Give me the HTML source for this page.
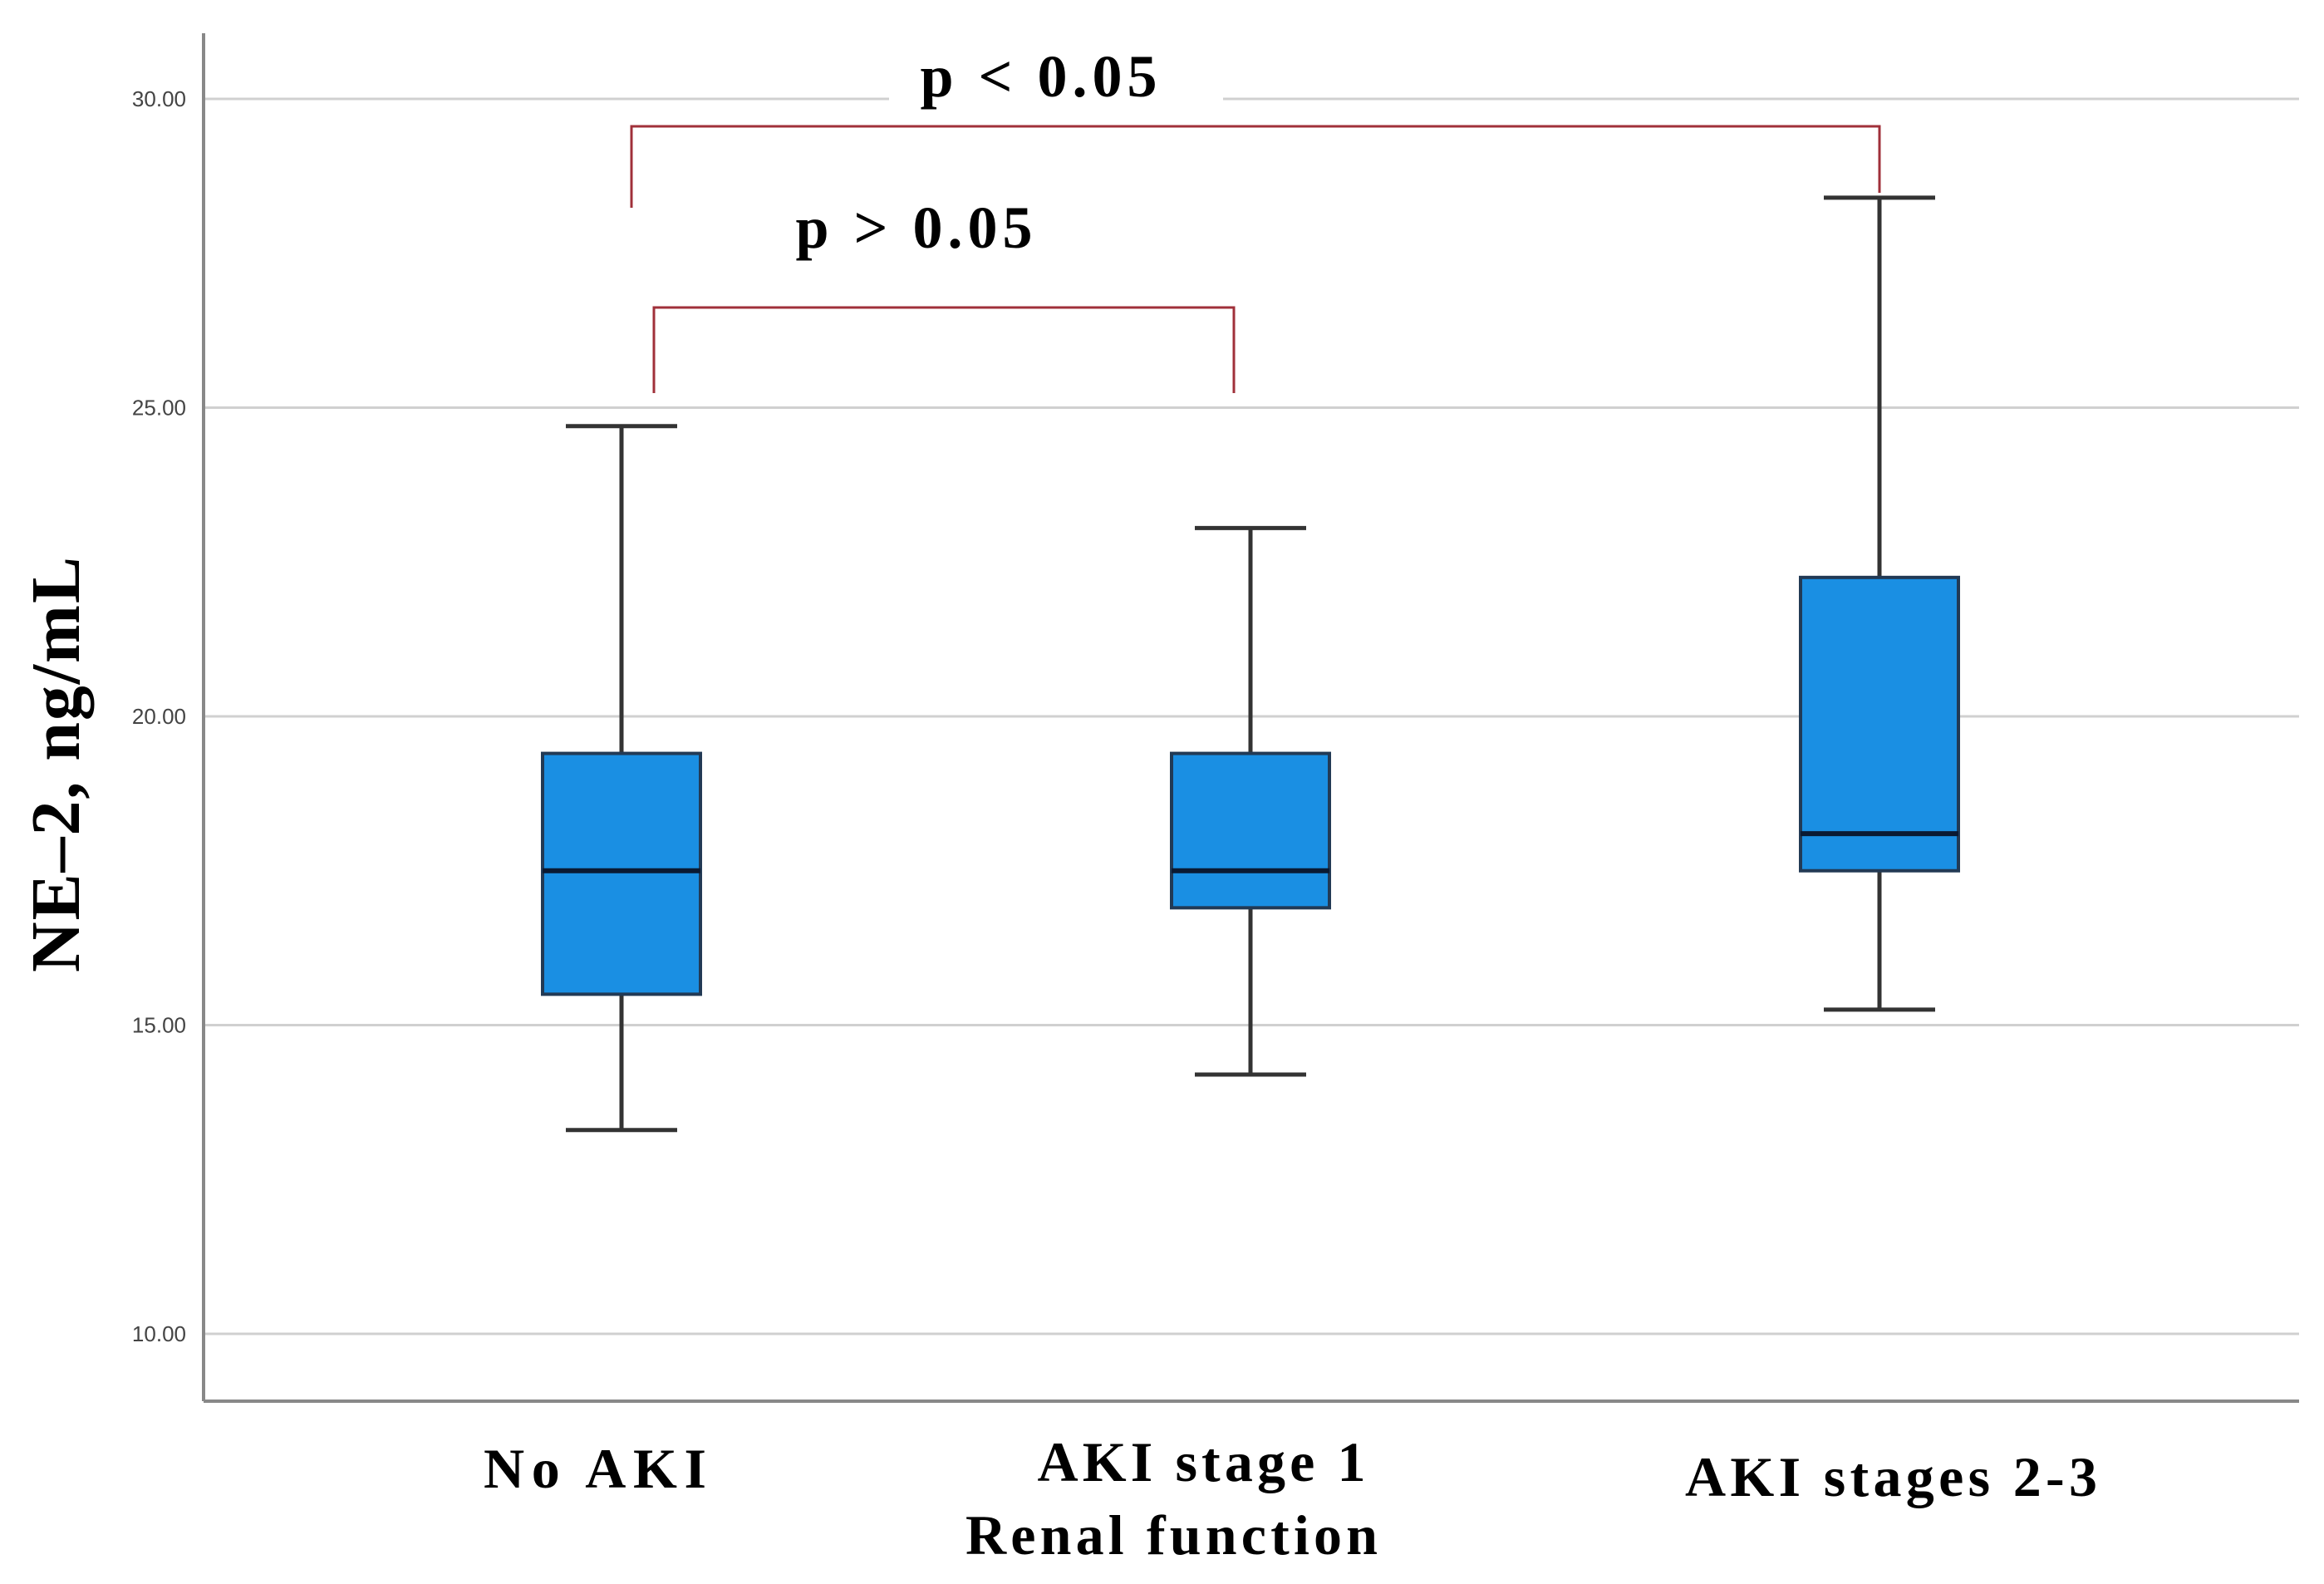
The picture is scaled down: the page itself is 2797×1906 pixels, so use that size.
<!DOCTYPE html>
<html><head><meta charset="utf-8"><style>
html,body{margin:0;padding:0;background:#fff;}
svg{display:block;}
</style></head><body>
<svg id="chart" width="2797" height="1906" viewBox="0 0 2797 1906" xmlns="http://www.w3.org/2000/svg">
<g id="grid"></g>
<g id="yticks"></g>
<line x1="245" y1="40" x2="245" y2="1686" stroke="#888" stroke-width="4"/>
<line x1="245" y1="1686" x2="2767" y2="1686" stroke="#888" stroke-width="4"/>
<g id="boxes"></g>
<polyline points="760,250 760,152 2262,152 2262,232" fill="none" stroke="#a0303a" stroke-width="3"/>
<polyline points="787,473 787,370 1485,370 1485,473" fill="none" stroke="#a0303a" stroke-width="3"/>
<text x="1250" y="116" text-anchor="middle" font-family="Liberation Serif, serif" font-weight="bold" font-size="72" textLength="285" lengthAdjust="spacing">p &lt; 0.05</text>
<text x="1100" y="298" text-anchor="middle" font-family="Liberation Serif, serif" font-weight="bold" font-size="72" textLength="285" lengthAdjust="spacing">p &gt; 0.05</text>
<text transform="translate(95,920) rotate(-90)" text-anchor="middle" font-family="Liberation Serif, serif" font-weight="bold" font-size="84" textLength="500" lengthAdjust="spacing">NE–2, ng/mL</text>
<g id="xlabels"></g>
<text x="1410" y="1870" text-anchor="middle" font-family="Liberation Serif, serif" font-weight="bold" font-size="68" textLength="496" lengthAdjust="spacing">Renal function</text>
</svg>
<script>
const categories = ["No AKI", "AKI stage 1", "AKI stages 2-3"];
const whiskerHigh = [24.7, 23.05, 28.4];
const q3 = [19.4, 19.4, 22.25];
const median = [17.5, 17.5, 18.1];
const q1 = [15.5, 16.9, 17.5];
const whiskerLow = [13.3, 14.2, 15.25];
const yTicks = [10, 15, 20, 25, 30];
const yTickLabels = ["10.00", "15.00", "20.00", "25.00", "30.00"];

const NS = "http://www.w3.org/2000/svg";
function yScale(v){ return 1605 - (v - 10) * 74.3; }
function xScale(i){ return 748 + i * 757; }
function mk(tag, attrs, parent){ const e=document.createElementNS(NS,tag); for(const k in attrs) e.setAttribute(k,attrs[k]); parent.appendChild(e); return e; }

const grid=document.getElementById('grid'), yt=document.getElementById('yticks');
yTicks.forEach((t,i)=>{
  const y=yScale(t);
  if(t===30){
    let a=mk('line',{x1:247,x2:1070,y1:y,y2:y,stroke:'#d0d0d0','stroke-width':3},grid);
    
    
    let b=mk('line',{x1:1472,x2:2767,y1:y,y2:y,stroke:'#d0d0d0','stroke-width':3},grid);
    
    
  } else {
    let l=mk('line',{x1:247,x2:2767,y1:y,y2:y,stroke:'#d0d0d0','stroke-width':3},grid);
    
    
  }
  let tx=mk('text',{x:224,y:y+9,'text-anchor':'end','font-family':'Liberation Sans, sans-serif','font-size':26,fill:'#444'},yt);
  tx.textContent=yTickLabels[i];
  
  
});

const boxes=document.getElementById('boxes');
categories.forEach((c,i)=>{
  const cx=xScale(i);
  const g=mk('g',{},boxes);
  
  
  let w1=mk('line',{x1:cx,x2:cx,y1:yScale(whiskerHigh[i]),y2:yScale(q3[i]),stroke:'#333','stroke-width':5},g);
  
  
  let w2=mk('line',{x1:cx,x2:cx,y1:yScale(q1[i]),y2:yScale(whiskerLow[i]),stroke:'#333','stroke-width':5},g);
  
  
  let c1=mk('line',{x1:cx-67,x2:cx+67,y1:yScale(whiskerHigh[i]),y2:yScale(whiskerHigh[i]),stroke:'#333','stroke-width':5},g);
  
  
  let c2=mk('line',{x1:cx-67,x2:cx+67,y1:yScale(whiskerLow[i]),y2:yScale(whiskerLow[i]),stroke:'#333','stroke-width':5},g);
  
  
  let r=mk('rect',{x:cx-95,y:yScale(q3[i]),width:190,height:yScale(q1[i])-yScale(q3[i]),fill:'#1a8fe3',stroke:'#223a55','stroke-width':4},g);
  
  
  let m=mk('line',{x1:cx-95,x2:cx+95,y1:yScale(median[i]),y2:yScale(median[i]),stroke:'#0a1a33','stroke-width':6},g);
  
  
});

const xl=document.getElementById('xlabels');
const labelX=[716,1446,2276], labelY=[1790,1782,1800], labelLen=[268,395,496];
categories.forEach((c,i)=>{
  let t=mk('text',{x:labelX[i],y:labelY[i],'text-anchor':'middle','font-family':'Liberation Serif, serif','font-weight':'bold','font-size':68,textLength:labelLen[i],lengthAdjust:'spacing'},xl);
  t.textContent=c;
  
  
});
</script>
</body></html>
